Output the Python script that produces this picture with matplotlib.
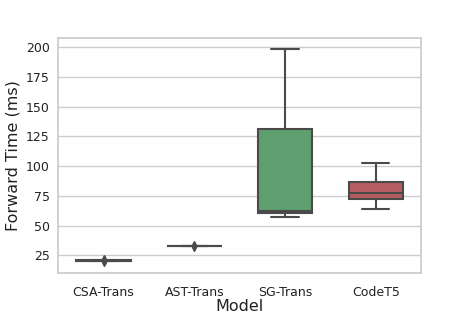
import matplotlib
matplotlib.use("Agg")
import matplotlib.pyplot as plt
import pandas as pd
import seaborn as sns

# values (ms)
csa_trans = [19.2, 20.2, 20.4, 20.5, 20.6, 20.8, 21.6]
ast_trans = [31.8, 32.5, 32.7, 32.9, 33.0, 33.2, 34.0]
sg_trans = [57.5, 60.4, 62.3, 131.0, 198.7]
codet5 = [63.8, 72.0, 77.3, 86.7, 102.7]

models = ["CSA-Trans", "AST-Trans", "SG-Trans", "CodeT5"]
series = [csa_trans, ast_trans, sg_trans, codet5]

rows = []
for name, vals in zip(models, series):
    for v in vals:
        rows.append({"Model": name, "Forward Time (ms)": v})
df = pd.DataFrame(rows)

sns.set_theme(style="whitegrid")

fig = plt.figure(figsize=(4.69, 3.13), dpi=100)
ax = fig.add_axes([0.124, 0.128, 0.774, 0.751])

line_c = "#4a4a4a"
sns.boxplot(data=df, x="Model", y="Forward Time (ms)", hue="Model",
            order=models, palette="deep", legend=False, ax=ax,
            width=0.6, linewidth=1.5, linecolor=line_c,
            flierprops=dict(marker="d", markersize=4,
                            markerfacecolor=line_c, markeredgecolor=line_c))

ax.set_xlabel("Model", fontsize=11.5, labelpad=0, color="#222222")
ax.set_ylabel("Forward Time (ms)", fontsize=11.5, labelpad=4, color="#222222")
ax.tick_params(axis="both", labelsize=9, labelcolor="#222222")
ax.tick_params(axis="y", pad=0)

fig.savefig("out.png", dpi=100)
